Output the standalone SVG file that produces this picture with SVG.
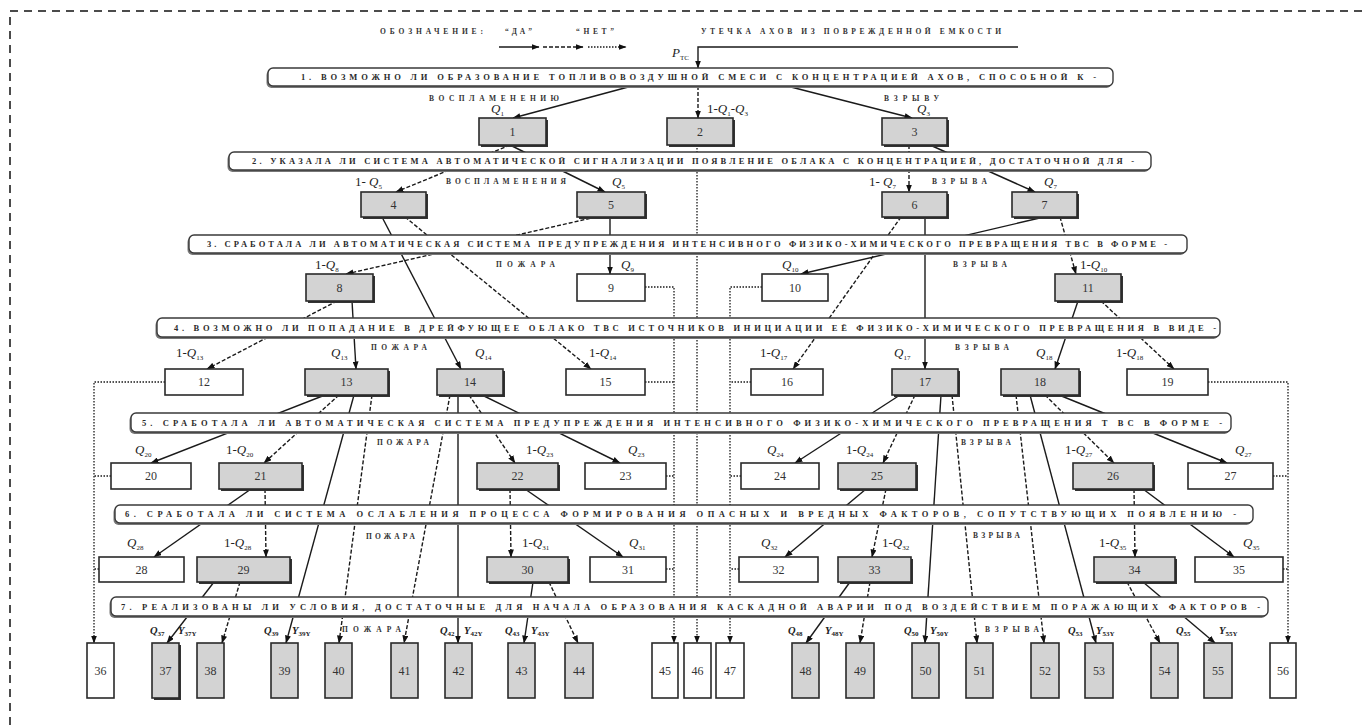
<svg xmlns="http://www.w3.org/2000/svg" width="1364" height="725" viewBox="0 0 1364 725">
<defs>
<marker id="ah" markerWidth="8" markerHeight="6" refX="7.5" refY="3" orient="auto" markerUnits="userSpaceOnUse"><path d="M0,0 L8,3 L0,6 z" fill="#111"/></marker>
<style>
.s{stroke:#1a1a1a;stroke-width:1.4;fill:none}
.d{stroke:#1a1a1a;stroke-width:1.4;fill:none;stroke-dasharray:4 2}
.o{stroke:#1a1a1a;stroke-width:1.3;fill:none;stroke-dasharray:1.5 1.5}
.a{marker-end:url(#ah)}
.bar{fill:#fff;stroke:#3a3a3a;stroke-width:1.4}
.bsh{fill:#777}
.bt{font-family:"Liberation Serif",serif;font-size:8.5px;font-weight:bold;fill:#2a2a2a}
.g{fill:#d3d3d3;stroke:#2a2a2a;stroke-width:1.6}
.w{fill:#fff;stroke:#2a2a2a;stroke-width:1.6}
.sh{fill:#333}
.n{font-family:"Liberation Serif",serif;font-size:12px;fill:#333;text-anchor:middle}
.lb{font-family:"Liberation Serif",serif;font-size:7.5px;font-weight:bold;fill:#333}
.q{font-family:"Liberation Serif",serif;font-size:13px;fill:#222}
.q7{font-family:"Liberation Serif",serif;font-size:10.5px;font-weight:bold;fill:#222}
.i{font-style:italic}
.sub{font-size:7px}
</style>
</defs>

<path d="M10,725 V11 H1364" fill="none" stroke="#111" stroke-width="1.5" stroke-dasharray="8 6"/>

<g id="legend">
<text class="lb" x="380" y="34" textLength="103" lengthAdjust="spacing">ОБОЗНАЧЕНИЕ:</text>
<text class="lb" x="505" y="34" textLength="27" lengthAdjust="spacing">“ДА”</text>
<text class="lb" x="576" y="34" textLength="38" lengthAdjust="spacing">“НЕТ”</text>
<line class="s a" x1="499" y1="47" x2="539" y2="47"/>
<line class="d a" x1="543" y1="47" x2="583" y2="47"/>
<line class="o a" x1="588" y1="47" x2="626" y2="47"/>
<text class="lb" x="701" y="34" textLength="300" lengthAdjust="spacing">УТЕЧКА АХОВ ИЗ ПОВРЕЖДЕННОЙ ЕМКОСТИ</text>
<text class="q" x="672" y="57"><tspan class="i">P</tspan><tspan class="sub" dy="3">ТС</tspan></text>
</g>

<g id="connectors">
<polyline class="s a" points="1018,47 698,47 698,68"/>
<line class="s a" x1="632" y1="86" x2="513" y2="118"/>
<line class="d a" x1="698" y1="86" x2="698" y2="118"/>
<line class="s a" x1="787" y1="86" x2="912" y2="118"/>

<line class="d a" x1="510" y1="145" x2="396" y2="192"/>
<line class="s a" x1="510" y1="145" x2="605" y2="192"/>
<line class="d a" x1="909" y1="145" x2="909" y2="192"/>
<line class="s a" x1="930" y1="145" x2="1035" y2="192"/>

<line class="d a" x1="596" y1="217" x2="346" y2="274"/>
<line class="s a" x1="610" y1="217" x2="610" y2="274"/>
<line class="s a" x1="1044" y1="217" x2="801" y2="274"/>
<line class="d a" x1="1060" y1="217" x2="1076" y2="274"/>

<line class="d a" x1="337" y1="301" x2="207" y2="369"/>
<line class="s a" x1="352" y1="301" x2="356" y2="369"/>
<line class="s a" x1="382" y1="217" x2="461" y2="369"/>
<line class="d a" x1="405" y1="217" x2="591" y2="369"/>
<line class="d a" x1="901" y1="217" x2="793" y2="369"/>
<line class="s a" x1="925" y1="217" x2="925" y2="369"/>
<line class="s a" x1="1078" y1="301" x2="1055" y2="369"/>
<line class="d a" x1="1101" y1="301" x2="1174" y2="369"/>

<line class="s a" x1="325" y1="395" x2="151" y2="463"/>
<line class="d a" x1="339" y1="395" x2="264" y2="463"/>
<line class="d a" x1="469" y1="395" x2="515" y2="463"/>
<line class="s a" x1="482" y1="395" x2="620" y2="463"/>
<line class="s a" x1="900" y1="395" x2="795" y2="463"/>
<line class="d a" x1="915" y1="395" x2="883" y2="463"/>
<line class="d a" x1="1045" y1="395" x2="1114" y2="463"/>
<line class="s a" x1="1059" y1="395" x2="1227" y2="463"/>

<line class="s a" x1="251" y1="489" x2="154" y2="557"/>
<line class="d a" x1="265" y1="489" x2="266" y2="557"/>
<line class="d a" x1="510" y1="489" x2="511" y2="557"/>
<line class="s a" x1="525" y1="489" x2="623" y2="557"/>
<line class="s a" x1="866" y1="489" x2="785" y2="557"/>
<line class="d a" x1="886" y1="489" x2="872" y2="557"/>
<line class="d a" x1="1134" y1="489" x2="1135" y2="557"/>
<line class="s a" x1="1143" y1="489" x2="1234" y2="557"/>

<line class="s a" x1="214" y1="582" x2="167" y2="643"/>
<line class="d a" x1="240" y1="582" x2="222" y2="643"/>
<line class="s a" x1="354" y1="395" x2="286" y2="643"/>
<line class="d a" x1="372" y1="395" x2="339" y2="643"/>
<line class="d a" x1="450" y1="395" x2="404" y2="643"/>
<line class="s a" x1="458" y1="395" x2="458" y2="643"/>
<line class="s a" x1="533" y1="582" x2="524" y2="643"/>
<line class="d a" x1="549" y1="582" x2="578" y2="643"/>
<line class="s a" x1="850" y1="582" x2="806" y2="643"/>
<line class="d a" x1="870" y1="582" x2="860" y2="643"/>
<line class="s a" x1="941" y1="395" x2="925" y2="643"/>
<line class="d a" x1="952" y1="395" x2="977" y2="643"/>
<line class="d a" x1="1016" y1="395" x2="1044" y2="643"/>
<line class="s a" x1="1030" y1="395" x2="1096" y2="643"/>
<line class="d a" x1="1127" y1="582" x2="1160" y2="643"/>
<line class="s a" x1="1143" y1="582" x2="1215" y2="643"/>

<line class="o a" x1="697" y1="145" x2="697" y2="643"/>
<polyline class="o a" points="645,287 674,287 674,643"/>
<line class="o" x1="645" y1="382" x2="674" y2="382"/>
<line class="o" x1="666" y1="476" x2="674" y2="476"/>
<line class="o" x1="666" y1="569" x2="674" y2="569"/>
<polyline class="o a" points="762,287 730,287 730,643"/>
<line class="o" x1="751" y1="382" x2="730" y2="382"/>
<line class="o" x1="741" y1="476" x2="730" y2="476"/>
<line class="o" x1="739" y1="569" x2="730" y2="569"/>
<polyline class="o a" points="165,382 94,382 94,643"/>
<line class="o" x1="111" y1="476" x2="94" y2="476"/>
<line class="o" x1="99" y1="569" x2="94" y2="569"/>
<polyline class="o a" points="1208,382 1288,382 1288,643"/>
<line class="o" x1="1273" y1="476" x2="1288" y2="476"/>
<line class="o" x1="1283" y1="569" x2="1288" y2="569"/>
</g>

<g id="q1"><rect class="bsh" x="266.5" y="70" width="845" height="18" rx="5"/><rect class="bar" x="268" y="68" width="845" height="18" rx="5"/><text class="bt" x="301" y="80" textLength="795" lengthAdjust="spacing">1. ВОЗМОЖНО ЛИ ОБРАЗОВАНИЕ ТОПЛИВОВОЗДУШНОЙ СМЕСИ С КОНЦЕНТРАЦИЕЙ АХОВ, СПОСОБНОЙ К -</text></g>
<g id="q2"><rect class="bsh" x="227.5" y="154" width="922" height="18" rx="5"/><rect class="bar" x="229" y="152" width="922" height="18" rx="5"/><text class="bt" x="252" y="164" textLength="882" lengthAdjust="spacing">2. УКАЗАЛА ЛИ СИСТЕМА АВТОМАТИЧЕСКОЙ СИГНАЛИЗАЦИИ ПОЯВЛЕНИЕ ОБЛАКА С КОНЦЕНТРАЦИЕЙ, ДОСТАТОЧНОЙ ДЛЯ -</text></g>
<g id="q3"><rect class="bsh" x="187.5" y="237" width="998" height="18" rx="5"/><rect class="bar" x="189" y="235" width="998" height="18" rx="5"/><text class="bt" x="207" y="247" textLength="960" lengthAdjust="spacing">3. СРАБОТАЛА ЛИ АВТОМАТИЧЕСКАЯ СИСТЕМА ПРЕДУПРЕЖДЕНИЯ ИНТЕНСИВНОГО ФИЗИКО-ХИМИЧЕСКОГО ПРЕВРАЩЕНИЯ ТВС В ФОРМЕ -</text></g>
<g id="q4"><rect class="bsh" x="155.5" y="320" width="1063" height="19" rx="5"/><rect class="bar" x="157" y="318" width="1063" height="19" rx="5"/><text class="bt" x="174" y="330.5" textLength="1042" lengthAdjust="spacing">4. ВОЗМОЖНО ЛИ ПОПАДАНИЕ В ДРЕЙФУЮЩЕЕ ОБЛАКО ТВС ИСТОЧНИКОВ ИНИЦИАЦИИ ЕЁ ФИЗИКО-ХИМИЧЕСКОГО ПРЕВРАЩЕНИЯ В ВИДЕ -</text></g>
<g id="q5"><rect class="bsh" x="129.5" y="415" width="1100" height="19" rx="5"/><rect class="bar" x="131" y="413" width="1100" height="19" rx="5"/><text class="bt" x="142" y="425.5" textLength="1080" lengthAdjust="spacing">5. СРАБОТАЛА ЛИ АВТОМАТИЧЕСКАЯ СИСТЕМА ПРЕДУПРЕЖДЕНИЯ ИНТЕНСИВНОГО ФИЗИКО-ХИМИЧЕСКОГО ПРЕВРАЩЕНИЯ Т ВС В ФОРМЕ -</text></g>
<g id="q6"><rect class="bsh" x="113.5" y="507" width="1138" height="18" rx="5"/><rect class="bar" x="115" y="505" width="1138" height="18" rx="5"/><text class="bt" x="125" y="517" textLength="1111" lengthAdjust="spacing">6. СРАБОТАЛА ЛИ СИСТЕМА ОСЛАБЛЕНИЯ ПРОЦЕССА ФОРМИРОВАНИЯ ОПАСНЫХ И ВРЕДНЫХ ФАКТОРОВ, СОПУТСТВУЮЩИХ    ПОЯВЛЕНИЮ -</text></g>
<g id="q7"><rect class="bsh" x="109.5" y="599" width="1157" height="19" rx="5"/><rect class="bar" x="111" y="597" width="1157" height="19" rx="5"/><text class="bt" x="121" y="609.5" textLength="1139" lengthAdjust="spacing">7. РЕАЛИЗОВАНЫ ЛИ УСЛОВИЯ, ДОСТАТОЧНЫЕ ДЛЯ НАЧАЛА ОБРАЗОВАНИЯ КАСКАДНОЙ АВАРИИ ПОД ВОЗДЕЙСТВИЕМ ПОРАЖАЮЩИХ ФАКТОРОВ -</text></g>

<g id="b1"><rect class="sh" x="481" y="120" width="67" height="27"/><rect class="g" x="479" y="118" width="67" height="27"/><text class="n" x="512.5" y="136">1</text></g>
<g id="b2"><rect class="sh" x="669" y="120" width="66" height="27"/><rect class="g" x="667" y="118" width="66" height="27"/><text class="n" x="700" y="136">2</text></g>
<g id="b3"><rect class="sh" x="884" y="120" width="65" height="27"/><rect class="g" x="882" y="118" width="65" height="27"/><text class="n" x="914.5" y="136">3</text></g>

<g id="b4"><rect class="sh" x="363" y="194" width="65" height="25"/><rect class="g" x="361" y="192" width="65" height="25"/><text class="n" x="393.5" y="209">4</text></g>
<g id="b5"><rect class="sh" x="579" y="194" width="68" height="25"/><rect class="g" x="577" y="192" width="68" height="25"/><text class="n" x="611" y="209">5</text></g>
<g id="b6"><rect class="sh" x="884" y="194" width="65" height="25"/><rect class="g" x="882" y="192" width="65" height="25"/><text class="n" x="914.5" y="209">6</text></g>
<g id="b7"><rect class="sh" x="1014" y="194" width="65" height="25"/><rect class="g" x="1012" y="192" width="65" height="25"/><text class="n" x="1044.5" y="209">7</text></g>

<g id="b8"><rect class="sh" x="308" y="276" width="67" height="27"/><rect class="g" x="306" y="274" width="67" height="27"/><text class="n" x="339.5" y="292">8</text></g>
<g id="b9"><rect class="w" x="577" y="274" width="68" height="27"/><text class="n" x="611" y="292">9</text></g>
<g id="b10"><rect class="w" x="762" y="274" width="66" height="27"/><text class="n" x="795" y="292">10</text></g>
<g id="b11"><rect class="sh" x="1057" y="276" width="66" height="27"/><rect class="g" x="1055" y="274" width="66" height="27"/><text class="n" x="1088" y="292">11</text></g>

<g id="b12"><rect class="w" x="165" y="369" width="78" height="26"/><text class="n" x="204" y="386">12</text></g>
<g id="b13"><rect class="sh" x="307" y="371" width="83" height="26"/><rect class="g" x="305" y="369" width="83" height="26"/><text class="n" x="346.5" y="386">13</text></g>
<g id="b14"><rect class="sh" x="439" y="371" width="66" height="26"/><rect class="g" x="437" y="369" width="66" height="26"/><text class="n" x="470" y="386">14</text></g>
<g id="b15"><rect class="w" x="566" y="369" width="79" height="26"/><text class="n" x="605.5" y="386">15</text></g>
<g id="b16"><rect class="w" x="751" y="369" width="72" height="26"/><text class="n" x="787" y="386">16</text></g>
<g id="b17"><rect class="sh" x="894" y="371" width="66" height="26"/><rect class="g" x="892" y="369" width="66" height="26"/><text class="n" x="925" y="386">17</text></g>
<g id="b18"><rect class="sh" x="1003" y="371" width="78" height="26"/><rect class="g" x="1001" y="369" width="78" height="26"/><text class="n" x="1040" y="386">18</text></g>
<g id="b19"><rect class="w" x="1127" y="369" width="81" height="26"/><text class="n" x="1167.5" y="386">19</text></g>

<g id="b20"><rect class="w" x="111" y="463" width="80" height="26"/><text class="n" x="151" y="480">20</text></g>
<g id="b21"><rect class="sh" x="221" y="465" width="83" height="26"/><rect class="g" x="219" y="463" width="83" height="26"/><text class="n" x="260.5" y="480">21</text></g>
<g id="b22"><rect class="sh" x="479" y="465" width="81" height="26"/><rect class="g" x="477" y="463" width="81" height="26"/><text class="n" x="517.5" y="480">22</text></g>
<g id="b23"><rect class="w" x="585" y="463" width="81" height="26"/><text class="n" x="625.5" y="480">23</text></g>
<g id="b24"><rect class="w" x="741" y="463" width="78" height="26"/><text class="n" x="780" y="480">24</text></g>
<g id="b25"><rect class="sh" x="840" y="465" width="78" height="26"/><rect class="g" x="838" y="463" width="78" height="26"/><text class="n" x="877" y="480">25</text></g>
<g id="b26"><rect class="sh" x="1075" y="465" width="80" height="26"/><rect class="g" x="1073" y="463" width="80" height="26"/><text class="n" x="1113" y="480">26</text></g>
<g id="b27"><rect class="w" x="1188" y="463" width="85" height="26"/><text class="n" x="1230.5" y="480">27</text></g>

<g id="b28"><rect class="w" x="99" y="557" width="85" height="25"/><text class="n" x="141.5" y="573.5">28</text></g>
<g id="b29"><rect class="sh" x="199" y="559" width="93" height="25"/><rect class="g" x="197" y="557" width="93" height="25"/><text class="n" x="243.5" y="573.5">29</text></g>
<g id="b30"><rect class="sh" x="489" y="559" width="81" height="25"/><rect class="g" x="487" y="557" width="81" height="25"/><text class="n" x="527.5" y="573.5">30</text></g>
<g id="b31"><rect class="w" x="590" y="557" width="76" height="25"/><text class="n" x="628" y="573.5">31</text></g>
<g id="b32"><rect class="w" x="739" y="557" width="79" height="25"/><text class="n" x="778.5" y="573.5">32</text></g>
<g id="b33"><rect class="sh" x="840" y="559" width="73" height="25"/><rect class="g" x="838" y="557" width="73" height="25"/><text class="n" x="874.5" y="573.5">33</text></g>
<g id="b34"><rect class="sh" x="1096" y="559" width="81" height="25"/><rect class="g" x="1094" y="557" width="81" height="25"/><text class="n" x="1134.5" y="573.5">34</text></g>
<g id="b35"><rect class="w" x="1195" y="557" width="88" height="25"/><text class="n" x="1239" y="573.5">35</text></g>

<g id="b36"><rect class="w" x="87" y="643" width="27" height="55"/><text class="n" x="100.5" y="675">36</text></g>
<g id="b37"><rect class="sh" x="154" y="645" width="27" height="55"/><rect class="g" x="152" y="643" width="27" height="55"/><text class="n" x="165.5" y="675">37</text></g>
<g id="b38"><rect class="g" x="197" y="643" width="27" height="55"/><text class="n" x="210.5" y="675">38</text></g>
<g id="b39"><rect class="g" x="271" y="643" width="27" height="55"/><text class="n" x="284.5" y="675">39</text></g>
<g id="b40"><rect class="g" x="325" y="643" width="27" height="55"/><text class="n" x="338.5" y="675">40</text></g>
<g id="b41"><rect class="g" x="391" y="643" width="27" height="55"/><text class="n" x="404.5" y="675">41</text></g>
<g id="b42"><rect class="g" x="445" y="643" width="27" height="55"/><text class="n" x="458.5" y="675">42</text></g>
<g id="b43"><rect class="g" x="508" y="643" width="27" height="55"/><text class="n" x="521.5" y="675">43</text></g>
<g id="b44"><rect class="g" x="565" y="643" width="28" height="55"/><text class="n" x="579" y="675">44</text></g>
<g id="b45"><rect class="w" x="652" y="643" width="26" height="55"/><text class="n" x="665" y="675">45</text></g>
<g id="b46"><rect class="w" x="684" y="643" width="27" height="55"/><text class="n" x="697.5" y="675">46</text></g>
<g id="b47"><rect class="w" x="716" y="643" width="28" height="55"/><text class="n" x="730" y="675">47</text></g>
<g id="b48"><rect class="g" x="792" y="643" width="27" height="55"/><text class="n" x="805.5" y="675">48</text></g>
<g id="b49"><rect class="g" x="846" y="643" width="28" height="55"/><text class="n" x="860" y="675">49</text></g>
<g id="b50"><rect class="g" x="912" y="643" width="27" height="55"/><text class="n" x="925.5" y="675">50</text></g>
<g id="b51"><rect class="g" x="966" y="643" width="27" height="55"/><text class="n" x="979.5" y="675">51</text></g>
<g id="b52"><rect class="g" x="1031" y="643" width="28" height="55"/><text class="n" x="1045" y="675">52</text></g>
<g id="b53"><rect class="g" x="1085" y="643" width="28" height="55"/><text class="n" x="1099" y="675">53</text></g>
<g id="b54"><rect class="g" x="1151" y="643" width="27" height="55"/><text class="n" x="1164.5" y="675">54</text></g>
<g id="b55"><rect class="g" x="1204" y="643" width="28" height="55"/><text class="n" x="1218" y="675">55</text></g>
<g id="b56"><rect class="w" x="1270" y="643" width="26" height="55"/><text class="n" x="1283" y="675">56</text></g>

<g id="labels">
<text class="lb" x="429" y="101" textLength="130" lengthAdjust="spacing">ВОСПЛАМЕНЕНИЮ</text>
<text class="lb" x="884" y="101" textLength="55" lengthAdjust="spacing">ВЗРЫВУ</text>
<text class="lb" x="446" y="184" textLength="120" lengthAdjust="spacing">ВОСПЛАМЕНЕНИЯ</text>
<text class="lb" x="932" y="184" textLength="55" lengthAdjust="spacing">ВЗРЫВА</text>
<text class="lb" x="496" y="267" textLength="59" lengthAdjust="spacing">ПОЖАРА</text>
<text class="lb" x="953" y="267" textLength="54" lengthAdjust="spacing">ВЗРЫВА</text>
<text class="lb" x="371" y="350" textLength="56" lengthAdjust="spacing">ПОЖАРА</text>
<text class="lb" x="955" y="350" textLength="54" lengthAdjust="spacing">ВЗРЫВА</text>
<text class="lb" x="377" y="445" textLength="52" lengthAdjust="spacing">ПОЖАРА</text>
<text class="lb" x="961" y="445" textLength="50" lengthAdjust="spacing">ВЗРЫВА</text>
<text class="lb" x="366" y="539" textLength="49" lengthAdjust="spacing">ПОЖАРА</text>
<text class="lb" x="973" y="538" textLength="47" lengthAdjust="spacing">ВЗРЫВА</text>
<text class="lb" x="342" y="632" textLength="59" lengthAdjust="spacing">ПОЖАРА</text>
<text class="lb" x="985" y="632" textLength="54" lengthAdjust="spacing">ВЗРЫВА</text>

<text class="q" x="491" y="113"><tspan class="i">Q</tspan><tspan class="sub" dy="3">1</tspan></text>
<text class="q" x="707" y="113">1-<tspan class="i">Q</tspan><tspan class="sub" dy="3">1</tspan><tspan dy="-3">-</tspan><tspan class="i">Q</tspan><tspan class="sub" dy="3">3</tspan></text>
<text class="q" x="917" y="113"><tspan class="i">Q</tspan><tspan class="sub" dy="3">3</tspan></text>

<text class="q" x="355" y="186">1- <tspan class="i">Q</tspan><tspan class="sub" dy="3">5</tspan></text>
<text class="q" x="612" y="186"><tspan class="i">Q</tspan><tspan class="sub" dy="3">5</tspan></text>
<text class="q" x="869" y="186">1- <tspan class="i">Q</tspan><tspan class="sub" dy="3">7</tspan></text>
<text class="q" x="1044" y="186"><tspan class="i">Q</tspan><tspan class="sub" dy="3">7</tspan></text>

<text class="q" x="315" y="269">1-<tspan class="i">Q</tspan><tspan class="sub" dy="3">8</tspan></text>
<text class="q" x="621" y="269"><tspan class="i">Q</tspan><tspan class="sub" dy="3">9</tspan></text>
<text class="q" x="782" y="269"><tspan class="i">Q</tspan><tspan class="sub" dy="3">10</tspan></text>
<text class="q" x="1080" y="269">1-<tspan class="i">Q</tspan><tspan class="sub" dy="3">10</tspan></text>

<text class="q" x="176" y="357">1-<tspan class="i">Q</tspan><tspan class="sub" dy="3">13</tspan></text>
<text class="q" x="331" y="357"><tspan class="i">Q</tspan><tspan class="sub" dy="3">13</tspan></text>
<text class="q" x="475" y="357"><tspan class="i">Q</tspan><tspan class="sub" dy="3">14</tspan></text>
<text class="q" x="589" y="357">1-<tspan class="i">Q</tspan><tspan class="sub" dy="3">14</tspan></text>
<text class="q" x="760" y="357">1-<tspan class="i">Q</tspan><tspan class="sub" dy="3">17</tspan></text>
<text class="q" x="894" y="357"><tspan class="i">Q</tspan><tspan class="sub" dy="3">17</tspan></text>
<text class="q" x="1036" y="357"><tspan class="i">Q</tspan><tspan class="sub" dy="3">18</tspan></text>
<text class="q" x="1116" y="357">1-<tspan class="i">Q</tspan><tspan class="sub" dy="3">18</tspan></text>

<text class="q" x="135" y="454"><tspan class="i">Q</tspan><tspan class="sub" dy="3">20</tspan></text>
<text class="q" x="226" y="454">1-<tspan class="i">Q</tspan><tspan class="sub" dy="3">20</tspan></text>
<text class="q" x="526" y="454">1-<tspan class="i">Q</tspan><tspan class="sub" dy="3">23</tspan></text>
<text class="q" x="628" y="454"><tspan class="i">Q</tspan><tspan class="sub" dy="3">23</tspan></text>
<text class="q" x="767" y="454"><tspan class="i">Q</tspan><tspan class="sub" dy="3">24</tspan></text>
<text class="q" x="846" y="454">1-<tspan class="i">Q</tspan><tspan class="sub" dy="3">24</tspan></text>
<text class="q" x="1065" y="454">1-<tspan class="i">Q</tspan><tspan class="sub" dy="3">27</tspan></text>
<text class="q" x="1235" y="454"><tspan class="i">Q</tspan><tspan class="sub" dy="3">27</tspan></text>

<text class="q" x="127" y="547"><tspan class="i">Q</tspan><tspan class="sub" dy="3">28</tspan></text>
<text class="q" x="224" y="547">1-<tspan class="i">Q</tspan><tspan class="sub" dy="3">28</tspan></text>
<text class="q" x="522" y="547">1-<tspan class="i">Q</tspan><tspan class="sub" dy="3">31</tspan></text>
<text class="q" x="629" y="547"><tspan class="i">Q</tspan><tspan class="sub" dy="3">31</tspan></text>
<text class="q" x="761" y="547"><tspan class="i">Q</tspan><tspan class="sub" dy="3">32</tspan></text>
<text class="q" x="882" y="547">1-<tspan class="i">Q</tspan><tspan class="sub" dy="3">32</tspan></text>
<text class="q" x="1099" y="547">1-<tspan class="i">Q</tspan><tspan class="sub" dy="3">35</tspan></text>
<text class="q" x="1243" y="547"><tspan class="i">Q</tspan><tspan class="sub" dy="3">35</tspan></text>

<text class="q7" x="150" y="634"><tspan class="i">Q</tspan><tspan class="sub" dy="2">37</tspan></text>
<text class="q7" x="178" y="634"><tspan class="i">Y</tspan><tspan class="sub" dy="2">37Y</tspan></text>
<text class="q7" x="264" y="634"><tspan class="i">Q</tspan><tspan class="sub" dy="2">39</tspan></text>
<text class="q7" x="292" y="634"><tspan class="i">Y</tspan><tspan class="sub" dy="2">39Y</tspan></text>
<text class="q7" x="440" y="634"><tspan class="i">Q</tspan><tspan class="sub" dy="2">42</tspan></text>
<text class="q7" x="464" y="634"><tspan class="i">Y</tspan><tspan class="sub" dy="2">42Y</tspan></text>
<text class="q7" x="505" y="634"><tspan class="i">Q</tspan><tspan class="sub" dy="2">43</tspan></text>
<text class="q7" x="531" y="634"><tspan class="i">Y</tspan><tspan class="sub" dy="2">43Y</tspan></text>
<text class="q7" x="788" y="634"><tspan class="i">Q</tspan><tspan class="sub" dy="2">48</tspan></text>
<text class="q7" x="825" y="634"><tspan class="i">Y</tspan><tspan class="sub" dy="2">48Y</tspan></text>
<text class="q7" x="904" y="634"><tspan class="i">Q</tspan><tspan class="sub" dy="2">50</tspan></text>
<text class="q7" x="930" y="634"><tspan class="i">Y</tspan><tspan class="sub" dy="2">50Y</tspan></text>
<text class="q7" x="1068" y="634"><tspan class="i">Q</tspan><tspan class="sub" dy="2">53</tspan></text>
<text class="q7" x="1096" y="634"><tspan class="i">Y</tspan><tspan class="sub" dy="2">53Y</tspan></text>
<text class="q7" x="1176" y="634"><tspan class="i">Q</tspan><tspan class="sub" dy="2">55</tspan></text>
<text class="q7" x="1219" y="634"><tspan class="i">Y</tspan><tspan class="sub" dy="2">55Y</tspan></text>
</g>
</svg>
